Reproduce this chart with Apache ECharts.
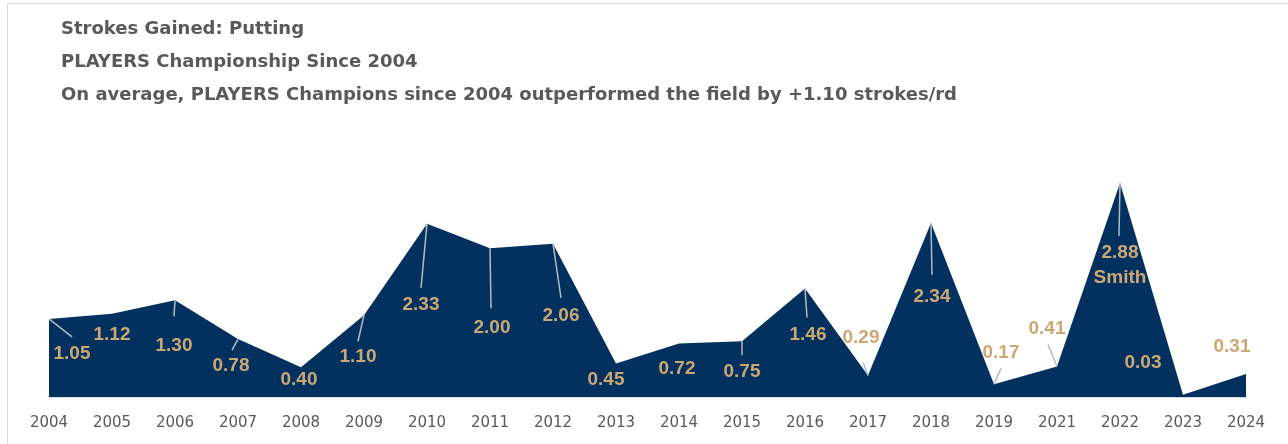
<!DOCTYPE html>
<html>
<head>
<meta charset="utf-8">
<script src="https://cdn.jsdelivr.net/npm/echarts@6/dist/echarts.min.js"></script>
<style>
html,body{margin:0;padding:0;background:#fff;}
#chart{width:1288px;height:444px;}
</style>
</head>
<body>
<div id="chart"></div>
<script>
// ---- data ----
const years = ['2004','2005','2006','2007','2008','2009','2010','2011','2012','2013','2014','2015','2016','2017','2018','2019','2021','2022','2023','2024'];
const sgPutting = [1.05,1.12,1.30,0.78,0.40,1.10,2.33,2.00,2.06,0.45,0.72,0.75,1.46,0.29,2.34,0.17,0.41,2.88,0.03,0.31];
const labelNotes = ['','','','','','','','','','','','','','','','','','Smith','',''];
const titleLines = [
  'Strokes Gained: Putting',
  'PLAYERS Championship Since 2004',
  'On average, PLAYERS Champions since 2004 outperformed the field by +1.10 strokes/rd'
];

// ---- label layout (pixel offsets from the data point) ----
const labelOffset = [[23,35],[0,21],[-1,45],[-7,27],[-2,12],[-6,42],[-6,81],[2,79],[8,72],[-10,16],
                     [-2,25],[0,31],[3,46],[-7,-38],[1,74],[7,-32],[-10,-38],[0,82],[-40,-32],[-14,-27]];
const leaderEnd = [[23,18],null,[-1,16],[-6,11],null,[-6,26],[-6,64],[1,60],[8,54],null,
                   null,[0,14],[2,29],[-5,-13],[1,52],[7,-16],[-9,-22],[-1,53],null,null];

const NAVY = '#03315F';
const GOLD = '#CBA873';
const GREY = '#595959';

const chart = echarts.init(document.getElementById('chart'));
chart.setOption({
  animation: false,
  backgroundColor: '#fff',
  title: {
    text: titleLines.join('\n'),
    left: 56, top: 8,
    textStyle: { fontFamily: 'DejaVu Sans', fontWeight: 'bold', fontSize: 18, color: GREY, lineHeight: 33 }
  },
  graphic: [{
    type: 'rect', left: 5, top: 1, shape: { width: 1400, height: 500 },
    style: { fill: 'none', stroke: '#D9D9D9', lineWidth: 1 }, silent: true, z: -10
  }],
  grid: { left: 49, right: 42, top: 174, bottom: 47, containLabel: false },
  xAxis: {
    type: 'category', data: years, boundaryGap: false,
    axisLine: { show: true, lineStyle: { color: '#D9D9D9', width: 2 } },
    axisTick: { show: false },
    axisLabel: { color: GREY, fontSize: 15, fontFamily: 'DejaVu Sans', margin: 19, interval: 0 },
    splitLine: { show: false }
  },
  yAxis: { type: 'value', min: 0, max: 3, show: false, splitLine: { show: false } },
  series: [{
    type: 'line', data: sgPutting, showSymbol: false, symbol: 'none',
    lineStyle: { width: 0, color: NAVY },
    areaStyle: { color: NAVY, opacity: 1 },
    z: 2
  }, {
    type: 'custom', data: sgPutting.map((v, i) => [i, v]), z: 5,
    renderItem: function (params, api) {
      const i = params.dataIndex;
      const p = api.coord([api.value(0), api.value(1)]);
      const off = labelOffset[i];
      const children = [];
      const le = leaderEnd[i];
      if (le) {
        children.push({
          type: 'line',
          shape: { x1: p[0], y1: p[1], x2: p[0] + le[0], y2: p[1] + le[1] },
          style: { stroke: '#B4B9C2', lineWidth: 1.5 }
        });
      }
      const txt = sgPutting[i].toFixed(2) + (labelNotes[i] ? '\n' + labelNotes[i] : '');
      children.push({
        type: 'text',
        x: p[0] + off[0], y: p[1] + off[1],
        style: {
          text: txt, fill: GOLD, fontSize: 19, fontWeight: 'bold', fontFamily: 'Liberation Sans',
          align: 'center', verticalAlign: 'middle', lineHeight: 25
        }
      });
      return { type: 'group', children: children };
    }
  }]
});
</script>
</body>
</html>
